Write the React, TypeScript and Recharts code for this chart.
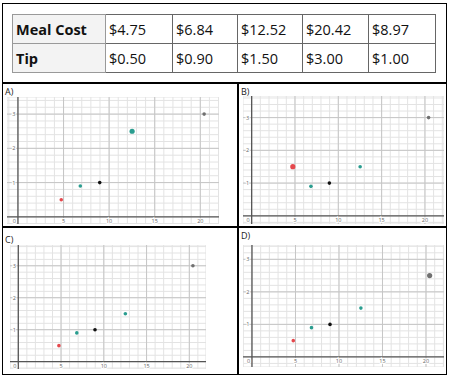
import {
  CartesianGrid,
  ReferenceDot,
  ReferenceLine,
  Scatter,
  ScatterChart,
  XAxis,
  YAxis,
} from 'recharts'

// table rows
const mealCostLabels = ['$4.75', '$6.84', '$12.52', '$20.42', '$8.97']
const tipLabels = ['$0.50', '$0.90', '$1.50', '$3.00', '$1.00']

// plotted values
const mealCost = [4.75, 6.84, 12.52, 20.42, 8.97]
const tipsA = [0.5, 0.9, 2.5, 3, 1]
const tipsB = [1.5, 0.9, 1.5, 3, 1]
const tipsC = [0.5, 0.9, 1.5, 3, 1]
const tipsD = [0.5, 0.9, 1.5, 2.5, 1]

const xLabels = [0, 5, 10, 15, 20]
const yLabels = [1, 2, 3]

const pointColors = ['#e5484d', '#2a9d8f', '#2a9d8f', '#707070', '#111111']

// minor grid every 1 on x, every 0.2 on y
const minorX = Array.from({ length: 25 }, (_, i) => i - 1)
const minorY = Array.from({ length: 20 }, (_, i) => Math.round((i - 1) * 2) / 10)

type Box = { left: number; top: number; width: number; height: number }

type PanelProps = {
  name: string
  tips: number[]
  big: number
  box: Box
  labelPos: { left: number; top: number }
  xDomain: [number, number]
  yDomain: [number, number]
}

const tickText = {
  fontSize: 5.5,
  fill: '#666',
  fontFamily: 'Open Sans, sans-serif',
  stroke: '#fff',
  strokeWidth: 2,
  paintOrder: 'stroke' as const,
}

function Panel({ name, tips, big, box, labelPos, xDomain, yDomain }: PanelProps) {
  const data = mealCost.map((x, i) => ({ x, y: tips[i], i }))
  return (
    <>
      <div
        style={{
          position: 'absolute',
          left: labelPos.left,
          top: labelPos.top,
          fontFamily: 'Open Sans, sans-serif',
          fontSize: 9,
          color: '#222',
          lineHeight: 1,
        }}
      >
        {name}
      </div>
      <div style={{ position: 'absolute', left: box.left, top: box.top }}>
        <ScatterChart width={box.width} height={box.height} margin={{ top: 0, right: 0, bottom: 0, left: 0 }}>
          <XAxis type='number' dataKey='x' domain={xDomain} ticks={minorX} interval={0} allowDataOverflow hide />
          <YAxis type='number' dataKey='y' domain={yDomain} ticks={minorY} interval={0} allowDataOverflow hide />
          <CartesianGrid stroke='#e3e3e3' strokeWidth={1} />
          {xLabels.slice(1).map((v) => (
            <ReferenceLine key={'vx' + v} x={v} stroke='#c6c6c6' strokeWidth={1} />
          ))}
          {yLabels.map((v) => (
            <ReferenceLine key={'hy' + v} y={v} stroke='#c6c6c6' strokeWidth={1} />
          ))}
          <ReferenceLine x={0} stroke='#555' strokeWidth={1.3} />
          <ReferenceLine y={0} stroke='#555' strokeWidth={1.3} />
          {xLabels.map((v) => (
            <ReferenceDot
              key={'lx' + v}
              x={v}
              y={0}
              r={0}
              shape={(p: any) => (
                <text x={p.cx + (v === 0 ? -3.5 : 0)} y={p.cy + 6.5} textAnchor='middle' {...tickText}>
                  {v}
                </text>
              )}
            />
          ))}
          {yLabels.map((v) => (
            <ReferenceDot
              key={'ly' + v}
              x={0}
              y={v}
              r={0}
              shape={(p: any) => (
                <text x={p.cx - 2.5} y={p.cy + 2} textAnchor='end' {...tickText}>
                  {v}
                </text>
              )}
            />
          ))}
          <Scatter
            data={data}
            isAnimationActive={false}
            shape={(p: any) => (
              <circle
                cx={p.cx}
                cy={p.cy}
                r={p.payload.i === big ? 2.6 : 1.8}
                fill={pointColors[p.payload.i]}
              />
            )}
          />
        </ScatterChart>
      </div>
    </>
  )
}

const cellBase = {
  border: '1px solid #666',
  padding: '0 0 0 3px',
  height: 28,
  fontSize: 14.5,
  color: '#111',
  whiteSpace: 'nowrap' as const,
}

export default function App() {
  return (
    <div
      style={{
        position: 'absolute',
        left: 0,
        top: 0,
        width: 449,
        height: 381,
        background: '#fff',
        fontFamily: 'Open Sans, sans-serif',
      }}
    >
      <table
        style={{
          position: 'absolute',
          left: 12,
          top: 14,
          width: 423,
          borderCollapse: 'collapse',
          tableLayout: 'fixed',
          border: '1px solid #999',
        }}
      >
        <colgroup>
          <col style={{ width: 93 }} />
          <col style={{ width: 67 }} />
          <col style={{ width: 65 }} />
          <col style={{ width: 65 }} />
          <col style={{ width: 66 }} />
          <col style={{ width: 67 }} />
        </colgroup>
        <tbody>
          <tr>
            <td style={{ ...cellBase, background: '#f3f3f3', fontWeight: 700, borderColor: '#999' }}>Meal Cost</td>
            {mealCostLabels.map((t) => (
              <td key={t} style={cellBase}>
                {t}
              </td>
            ))}
          </tr>
          <tr>
            <td style={{ ...cellBase, background: '#f3f3f3', fontWeight: 700, borderColor: '#999' }}>Tip</td>
            {tipLabels.map((t) => (
              <td key={t} style={cellBase}>
                {t}
              </td>
            ))}
          </tr>
        </tbody>
      </table>

      {/* frame */}
      <div style={{ position: 'absolute', left: 2, top: 3, width: 443, height: 370, border: '1.5px solid #000' }} />
      <div style={{ position: 'absolute', left: 2, top: 82, width: 445, height: 1.5, background: '#000' }} />
      <div style={{ position: 'absolute', left: 2, top: 226, width: 445, height: 1.5, background: '#000' }} />
      <div style={{ position: 'absolute', left: 237, top: 82, width: 1.5, height: 292, background: '#000' }} />

      <Panel
        name='A)'
        tips={tipsA}
        big={2}
        box={{ left: 7, top: 97, width: 212, height: 127 }}
        labelPos={{ left: 5, top: 87 }}
        xDomain={[-1.2, 22.05]}
        yDomain={[-0.21, 3.5]}
      />
      <Panel
        name='B)'
        tips={tipsB}
        big={0}
        box={{ left: 243, top: 96, width: 201, height: 128 }}
        labelPos={{ left: 241, top: 87 }}
        xDomain={[-1, 22.2]}
        yDomain={[-0.25, 3.66]}
      />
      <Panel
        name='C)'
        tips={tipsC}
        big={-1}
        box={{ left: 10, top: 245, width: 196, height: 124 }}
        labelPos={{ left: 5, top: 235 }}
        xDomain={[-0.97, 21.95]}
        yDomain={[-0.23, 3.65]}
      />
      <Panel
        name='D)'
        tips={tipsD}
        big={3}
        box={{ left: 243, top: 245, width: 201, height: 122 }}
        labelPos={{ left: 241, top: 231 }}
        xDomain={[-1.03, 22.07]}
        yDomain={[-0.31, 3.44]}
      />
    </div>
  )
}
